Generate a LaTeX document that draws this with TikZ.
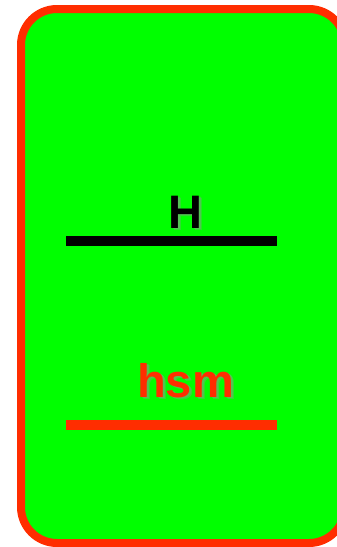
\documentclass[tikz,border=0pt]{standalone}
\usepackage{fontspec}
\setmainfont{Liberation Sans}
\definecolor{bggreen}{RGB}{0,255,0}
\definecolor{hred}{RGB}{255,45,0}
\definecolor{shadowgray}{RGB}{150,150,150}
\begin{document}
\begin{tikzpicture}[x=1pt,y=-1pt,
  lbl/.style={font=\fontsize{47}{47}\selectfont\bfseries, anchor=base, inner sep=0pt},
  shadowlbl/.style={lbl, text=shadowgray, opacity=0.35},
  bar/.style={line width=10pt}]
\useasboundingbox (0,0) rectangle (337,547);
\clip (0,0) rectangle (337,547);
\node[draw=hred, fill=bggreen, line width=8pt, rounded corners=36pt, outer sep=0pt,
  minimum width=324pt, minimum height=534pt, anchor=north west, inner sep=0pt] (box) at (21,9) {};
\node[shadowlbl] at (187,229.5) {H};
\node[shadowlbl] at (188,230.5) {H};
\node[lbl, text=black] (H) at (185,228) {H};
\coordinate (h1) at (66,241);
\coordinate (h2) at (277,241);
\draw[bar, black] (h1) -- (h2);
\node[shadowlbl] at (187.5,398.5) {hsm};
\node[shadowlbl] at (188.5,399.5) {hsm};
\node[lbl, text=hred] (hsm) at (185.5,397) {hsm};
\coordinate (s1) at (66,425);
\coordinate (s2) at (277,425);
\draw[bar, hred] (s1) -- (s2);
\end{tikzpicture}
\end{document}
